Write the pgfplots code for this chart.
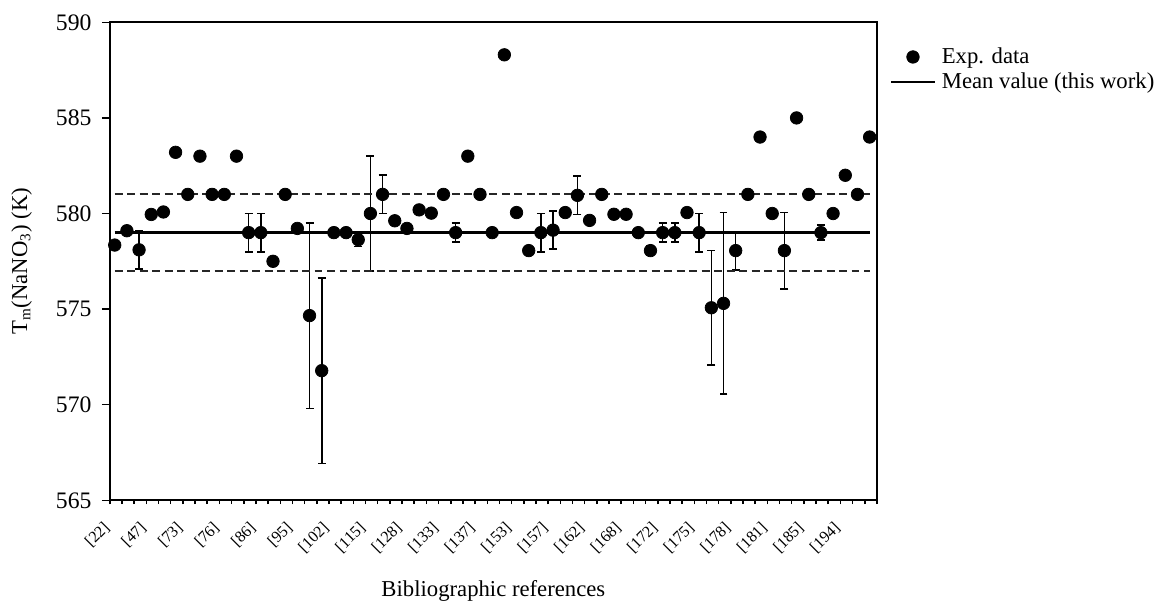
\documentclass[border=0pt]{standalone}
\usepackage{fontspec}
\setmainfont{Liberation Serif}
\usepackage{pgfplots}
\pgfplotsset{compat=1.18}
\usepackage{pgfplotstable}

\pgfplotstableread{
x y
0.4 578.35
1.4 579.1
2.4 578.1
3.4 579.95
4.4 580.08
5.4 583.2
6.4 581.0
7.4 583.0
8.4 581.0
9.4 581.0
10.4 583.0
11.4 579.0
12.4 579.0
13.4 577.5
14.4 581.0
15.4 579.22
16.4 574.66
17.4 571.78
18.4 579.0
19.4 579.0
20.4 578.63
21.4 580.0
22.4 581.0
23.4 579.62
24.4 579.22
25.4 580.19
26.4 580.02
27.4 581.0
28.4 579.0
29.4 583.0
30.4 581.0
31.4 579.0
32.4 588.3
33.4 580.05
34.4 578.06
35.4 579.0
36.4 579.13
37.4 580.05
38.4 580.95
39.4 579.64
40.4 581.0
41.4 579.96
42.4 579.96
43.4 579.0
44.4 578.06
45.4 579.0
46.4 579.0
47.4 580.05
48.4 579.0
49.4 575.07
50.4 575.3
51.4 578.06
52.4 581.0
53.4 584.0
54.4 580.0
55.4 578.06
56.4 585.0
57.4 581.0
58.4 579.0
59.4 580.0
60.4 582.0
61.4 581.0
62.4 584.0
}\expdata

\pgfplotstableread{
x y ey
2.4 578.1 1
11.4 579.0 1
12.4 579.0 1
16.4 574.66 4.85
17.4 571.78 4.85
20.4 578.63 0.35
21.4 580.0 3
22.4 581.0 1
28.4 579.0 0.5
35.4 579.0 1
36.4 579.13 1
38.4 580.95 1
44.4 578.06 0.25
45.4 579.0 0.5
46.4 579.0 0.5
48.4 579.0 1
49.4 575.07 3
50.4 575.3 4.75
51.4 578.06 1
55.4 578.06 2
58.4 579.0 0.4
}\errdata

\begin{document}
\begin{tikzpicture}
\begin{axis}[name=ax, scale only axis, width=405.4pt, height=252.6pt,
  xmin=0, xmax=63, ymin=565, ymax=590,
  axis line style={line width=0.9pt},
  tick align=outside, xtick pos=bottom, ytick pos=left,
  every tick/.style={black, line width=0.8pt},
  major tick length=4.2pt,
  minor tick length=2pt,
  xtick style={/pgfplots/major tick length=2pt},
  xtick={0,3,...,60},
  minor xtick={0,...,63},
  xticklabels={{[22]},{[47]},{[73]},{[76]},{[86]},{[95]},{[102]},{[115]},{[128]},{[133]},{[137]},{[153]},{[157]},{[162]},{[168]},{[172]},{[175]},{[178]},{[181]},{[185]},{[194]}},
  ytick={565,570,...,590},
  /pgf/number format/assume math mode=true,
  yticklabel style={font=\fontsize{12.5}{14}\selectfont, xshift=-2pt},
  xticklabel style={font=\fontsize{8.5}{10}\selectfont, xshift=-4pt, yshift=-5pt, rotate=45, anchor=north east, inner sep=1pt},
  every axis y label/.style={at={(axis description cs:-0.115,0.5)}, rotate=90, anchor=center, font=\fontsize{12}{14}\selectfont},
  every axis x label/.style={at={(axis description cs:0.5,-0.189)}, anchor=center, font=\fontsize{12}{14}\selectfont},
  ylabel={T\textsubscript{m}(NaNO\textsubscript{3}) (K)},
  xlabel={Bibliographic references},
  legend style={at={(axis description cs:1,1)}, anchor=north west, xshift=6.6pt, yshift=-12.7pt,
    draw=none, fill=none, inner sep=0pt, font=\fontsize{12}{14}\selectfont,
    nodes={inner ysep=0.5pt, inner xsep=3pt}, row sep=2.4pt},
  legend cell align=left,
  reverse legend,
  legend image code/.code={\draw[mark repeat=2,mark phase=2,#1] plot coordinates {(0pt,0pt) (11.6pt,0pt) (23.2pt,0pt)};},
]
\addplot[forget plot, only marks, mark=none,
  error bars/.cd, y dir=both, y explicit,
  error bar style={black, solid, line width=0.85pt},
  error mark options={black, line width=0.85pt, mark size=2.1pt, rotate=90}]
  table[x=x, y=y, y error=ey] {\errdata};
\addplot[forget plot, black!85, line width=1pt, dash pattern=on 4.2pt off 2.4pt] coordinates {(0.4,581) (62.4,581)};
\addplot[forget plot, black!85, line width=1pt, dash pattern=on 4.2pt off 2.4pt] coordinates {(0.4,577) (62.4,577)};
\addplot[black, line width=1.3pt] coordinates {(0.4,579) (62.4,579)};
\addlegendentry{Mean value (this work)}
\addplot[only marks, mark=*, mark size=3.3pt, black, mark options={fill=black}] table[x=x, y=y] {\expdata};
\addlegendentry{Exp. data}
\end{axis}
\path ([xshift=-58.05pt,yshift=-50.3pt]ax.south west) rectangle ([xshift=147.1pt,yshift=11.8pt]ax.north east);
\end{tikzpicture}
\end{document}
